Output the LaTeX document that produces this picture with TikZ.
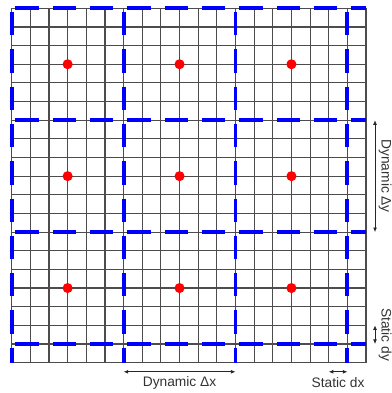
\documentclass[tikz,border=0pt]{standalone}
\usepackage{fontspec}
\setmainfont{Liberation Sans}
\usetikzlibrary{arrows.meta}
\begin{document}
\begin{tikzpicture}[x=0.5cm, y=0.5cm,
    blueline/.style={blue, line width=3pt, dash pattern=on 0.625cm off 0.375cm, dash phase=0.9cm},
    reddot/.style={fill=red},
    dimarrow/.style={black!85, line width=0.6pt, {Latex[length=3.5pt,width=3pt]}-{Latex[length=3.5pt,width=3pt]}},
    lbl/.style={inner sep=0pt, text=black!80, font=\fontsize{10.5}{12}\selectfont}]
    \useasboundingbox (-0.627,-1.627) rectangle (20.39,19.445);
    \draw[black!70, line width=0.9pt, step=0.5cm] (0,0) grid (19,19);
    % block borders, rows
    \draw[blueline] (0,19) -- (19,19);
    \draw[blueline] (0,13) -- (19,13);
    \draw[blueline] (0,7) -- (19,7);
    \draw[blueline] (0,1) -- (19,1);
    % block borders, columns
    \draw[blueline] (0,19) -- (0,0);
    \draw[blueline] (6,19) -- (6,0);
    \draw[blueline] (12,19) -- (12,0);
    \draw[blueline] (18,19) -- (18,0);
    % block centres
    \fill[reddot] (3,16) circle (0.27); \fill[reddot] (9,16) circle (0.27); \fill[reddot] (15,16) circle (0.27);
    \fill[reddot] (3,10) circle (0.27); \fill[reddot] (9,10) circle (0.27); \fill[reddot] (15,10) circle (0.27);
    \fill[reddot] (3,4) circle (0.27); \fill[reddot] (9,4) circle (0.27); \fill[reddot] (15,4) circle (0.27);
    % spacing marks along the bottom
    \coordinate (dxa) at (6,-0.49); \coordinate (dxb) at (12,-0.49);
    \draw[dimarrow] (dxa) -- (dxb);
    \node[lbl] (dxlabel) at (9,-1.08) {Dynamic Δx};
    \coordinate (sxa) at (17,-0.49); \coordinate (sxb) at (18,-0.49);
    \draw[dimarrow] (sxa) -- (sxb);
    \node[lbl] (sxlabel) at (17.5,-1.08) {Static dx};
    % spacing marks along the right side
    \coordinate (dya) at (19.48,13); \coordinate (dyb) at (19.48,7);
    \draw[dimarrow] (dya) -- (dyb);
    \node[lbl, rotate=-90] (dylabel) at (20.02,10) {Dynamic Δy};
    \coordinate (sya) at (19.48,2); \coordinate (syb) at (19.48,1);
    \draw[dimarrow] (sya) -- (syb);
    \node[lbl, rotate=-90] (sylabel) at (20.02,1.5) {Static dy};
\end{tikzpicture}
\end{document}
